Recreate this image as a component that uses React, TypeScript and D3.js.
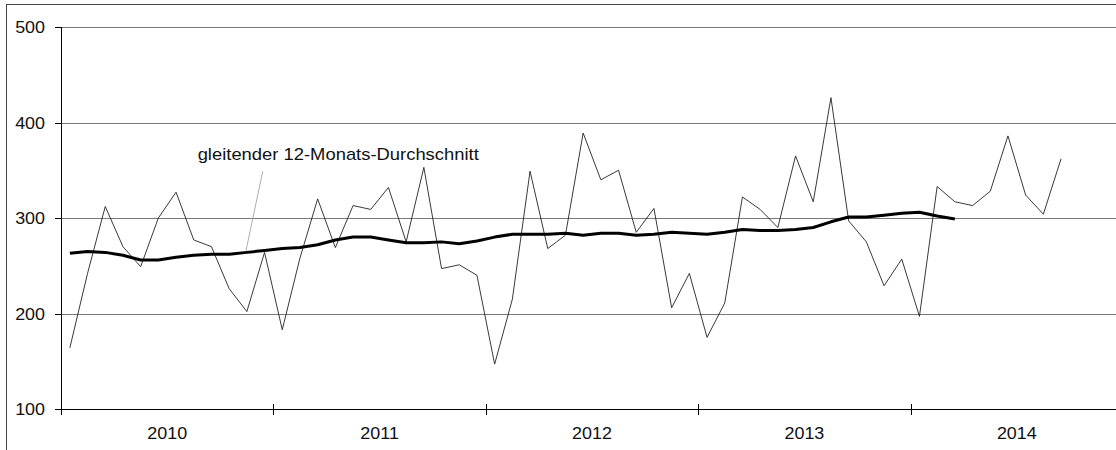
import * as d3 from "d3";
import React from "react";

// monthly values Jan 2010 .. Sep 2014
const monthly = [
  164, 242, 312, 270, 249, 300, 327, 277, 270, 226, 202, 264,
  183, 258, 320, 269, 313, 309, 332, 275, 353, 247, 251, 240,
  147, 215, 349, 268, 282, 389, 340, 350, 285, 310, 206, 242,
  175, 211, 322, 309, 290, 365, 317, 426, 297, 275, 229, 257,
  197, 333, 317, 313, 328, 386, 324, 304, 362,
];

// 12-month moving average Jan 2010 .. Mar 2014
const movingAvg = [
  263, 265, 264, 261, 256, 256, 259, 261, 262, 262, 264, 266,
  268, 269, 272, 277, 280, 280, 277, 274, 274, 275, 273, 276,
  280, 283, 283, 283, 284, 282, 284, 284, 282, 283, 285, 284,
  283, 285, 288, 287, 287, 288, 290, 296, 301, 301, 303, 305,
  306, 302, 299,
];

const years = ["2010", "2011", "2012", "2013", "2014"];
const yTicks = [100, 200, 300, 400, 500];
const annotation = "gleitender 12-Monats-Durchschnitt";

const WIDTH = 1116;
const HEIGHT = 450;
const FONT = "'Liberation Sans', Arial, sans-serif";

export default function App() {
  const left = 61;
  const monthW = 17.7;

  // linear month scale, points sit in the middle of each month
  const x = d3
    .scaleLinear()
    .domain([0, years.length * 12])
    .range([left, left + monthW * years.length * 12]);
  const y = d3.scaleLinear().domain([100, 500]).range([409, 27]);
  const mx = (i: number) => x(i + 0.5);

  const line = d3
    .line<number>()
    .x((_, i) => mx(i))
    .y((d) => y(d));

  const yearTicks = d3.range(0, years.length + 1).map((k) => k * 12);

  // annotation anchor in data units (month position, value)
  const textAt = { i: 7.72, v: 361 };
  const leaderTop = { i: 11.4, v: 349 };
  const leaderEnd = 10;

  return (
    <div style={{ position: "fixed", left: 0, top: 0 }}>
      <svg width={WIDTH} height={HEIGHT} style={{ display: "block", background: "#fff" }}>
        {/* outer frame */}
        <rect x={6.5} y={4.5} width={WIDTH + 10} height={HEIGHT + 10} fill="none" stroke="#444" strokeWidth={1} />

        {/* gridlines */}
        {yTicks.slice(1).map((t) => (
          <line key={t} x1={left} x2={WIDTH} y1={Math.round(y(t)) + 0.5} y2={Math.round(y(t)) + 0.5} stroke="#7a7a7a" strokeWidth={1} />
        ))}

        {/* y axis */}
        <line x1={left + 0.5} x2={left + 0.5} y1={Math.round(y(500))} y2={415} stroke="#000" />
        {yTicks.map((t) => (
          <g key={t}>
            <line x1={left - 6} x2={left} y1={Math.round(y(t)) + 0.5} y2={Math.round(y(t)) + 0.5} stroke="#000" />
            <text
              transform={`translate(${left - 16},${y(t) + 6}) scale(1.12,1)`}
              textAnchor="end"
              fontFamily={FONT}
              fontSize={16}
              fill="#111"
            >
              {t}
            </text>
          </g>
        ))}

        {/* x axis */}
        <line x1={left} x2={WIDTH} y1={Math.round(y(100)) + 0.5} y2={Math.round(y(100)) + 0.5} stroke="#000" />
        {yearTicks.map((m) => (
          <line key={m} x1={Math.round(x(m)) + 0.5} x2={Math.round(x(m)) + 0.5} y1={404} y2={415} stroke="#000" />
        ))}
        {years.map((yr, k) => (
          <text
            key={yr}
            transform={`translate(${x(k * 12 + 6)},439) scale(1.12,1)`}
            textAnchor="middle"
            fontFamily={FONT}
            fontSize={16}
            fill="#111"
          >
            {yr}
          </text>
        ))}

        {/* monthly series */}
        <path d={line(monthly) ?? ""} fill="none" stroke="#222" strokeWidth={0.9} />

        {/* moving average */}
        <path d={line(movingAvg) ?? ""} fill="none" stroke="#000" strokeWidth={3} strokeLinejoin="round" />

        {/* annotation */}
        <line
          x1={x(leaderTop.i)}
          y1={y(leaderTop.v)}
          x2={mx(leaderEnd) - 1}
          y2={y(movingAvg[leaderEnd]) - 1}
          stroke="#999"
          strokeWidth={0.8}
        />
        <text
          transform={`translate(${x(textAt.i)},${y(textAt.v)}) scale(1.15,1)`}
          fontFamily={FONT}
          fontSize={16}
          fill="#111"
        >
          {annotation}
        </text>
      </svg>
    </div>
  );
}
